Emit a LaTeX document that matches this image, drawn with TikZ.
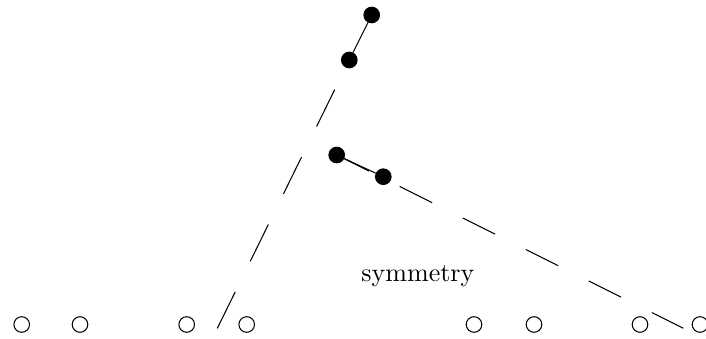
\documentclass[tikz,border=0pt]{standalone}
\usetikzlibrary{calc}
\tikzset{dot/.style={circle,draw,fill=black,inner sep=0pt,minimum size=6pt},
 site/.style={circle,draw,inner sep=0pt,minimum size=6pt},
 wire/.style={line width=.4pt},
 dashl/.style={wire,dash pattern=on 15.8pt off 13.1pt,dash phase=16.2pt},
 dashr/.style={wire,dash pattern=on 13.9pt off 13.2pt}}
\begin{document}
\begin{tikzpicture}[x=.3846pt,y=-.3846pt]
\useasboundingbox (0,0) rectangle (706,339);
\node[dot] (u1) at (371.7,15) {};\node[dot] (u2) at (349.3,60) {};
\node[dot] (v1) at (336.7,155) {};\node[dot] (v2) at (383.3,176.7) {};
\coordinate (ue) at (217.3,328.3);\coordinate (ve) at (683.3,328.3);
\draw[wire] (u1)--(u2);\draw[dashl] (u2.center)--(ue);
\draw[wire] (v1)--(v2);\draw[dashr] (v1.center)--(ve);
\node[site] (s1) at (21.7,324.5) {};\node[site] (s2) at (80,324.5) {};
\node[site] (s3) at (186.7,324.5) {};\node[site] (s4) at (246.7,324.5) {};
\node[site] (s5) at (474,324.5) {};\node[site] (s6) at (534,324.5) {};
\node[site] (s7) at (640,324.5) {};\node[site] (s8) at (700,324.5) {};
\node[anchor=base] (sym) at (417.9,281.7) {symmetry};
\end{tikzpicture}
\end{document}
